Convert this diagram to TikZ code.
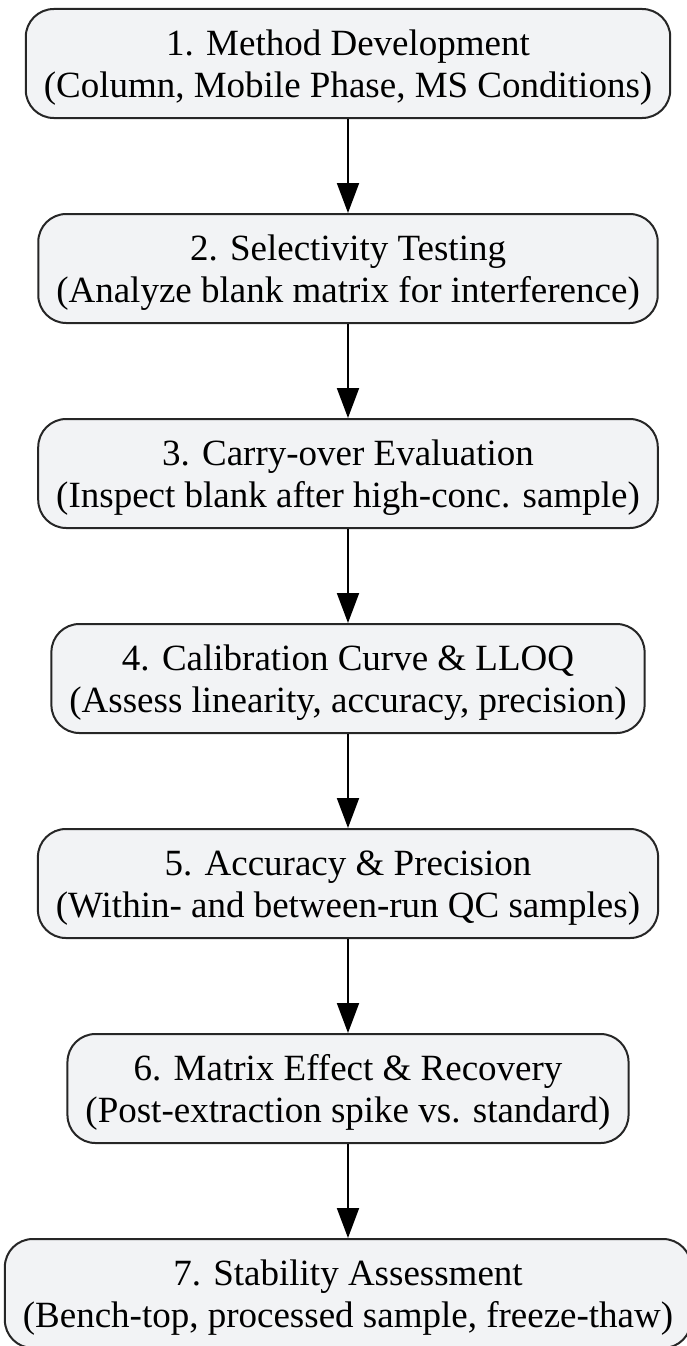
\documentclass[tikz,border=0pt]{standalone}
\usepackage{fontspec}
\setmainfont{Liberation Serif}
\usetikzlibrary{positioning}
\usetikzlibrary{arrows.meta}
\definecolor{stagefill}{HTML}{F2F3F5}
\definecolor{stagedraw}{HTML}{262626}
\tikzstyle{stage}=[draw=stagedraw,fill=stagefill,line width=2pt,rounded corners=28pt,align=center,minimum height=109pt,inner xsep=18pt,font=\fontsize{37pt}{42pt}\selectfont]
\tikzstyle{flow}=[-{Triangle[length=30pt,width=22pt]},line width=2pt]
% title line and detail line of one stage
\newcommand{\stagetext}[2]{\rule{0pt}{34pt}#1\\#2}
\begin{document}
\begin{tikzpicture}[node distance=94pt]
  \useasboundingbox (0,0) rectangle (687pt,-1346pt);
  \node[stage] (dev) at (348pt,-63.5pt) {\stagetext{1. Method Development}{(Column, Mobile Phase, MS Conditions)}};
  \node[stage,below=of dev] (sel) {\stagetext{2. Selectivity Testing}{(Analyze blank matrix for interference)}};
  \node[stage,below=of sel] (carry) {\stagetext{3. Carry-over Evaluation}{(Inspect blank after high-conc. sample)}};
  \node[stage,below=of carry] (cal) {\stagetext{4. Calibration Curve \& LLOQ}{(Assess linearity, accuracy, precision)}};
  \node[stage,below=of cal] (acc) {\stagetext{5. Accuracy \& Precision}{(Within- and between-run QC samples)}};
  \node[stage,below=of acc] (matrix) {\stagetext{6. Matrix Effect \& Recovery}{(Post-extraction spike vs. standard)}};
  \node[stage,below=of matrix] (stab) {\stagetext{7. Stability Assessment}{(Bench-top, processed sample, freeze-thaw)}};
  % arrows between stages
  \foreach \a/\b in {dev/sel,sel/carry,carry/cal,cal/acc,acc/matrix,matrix/stab}
    \draw[flow] (\a) -- (\b);
\end{tikzpicture}
\end{document}
